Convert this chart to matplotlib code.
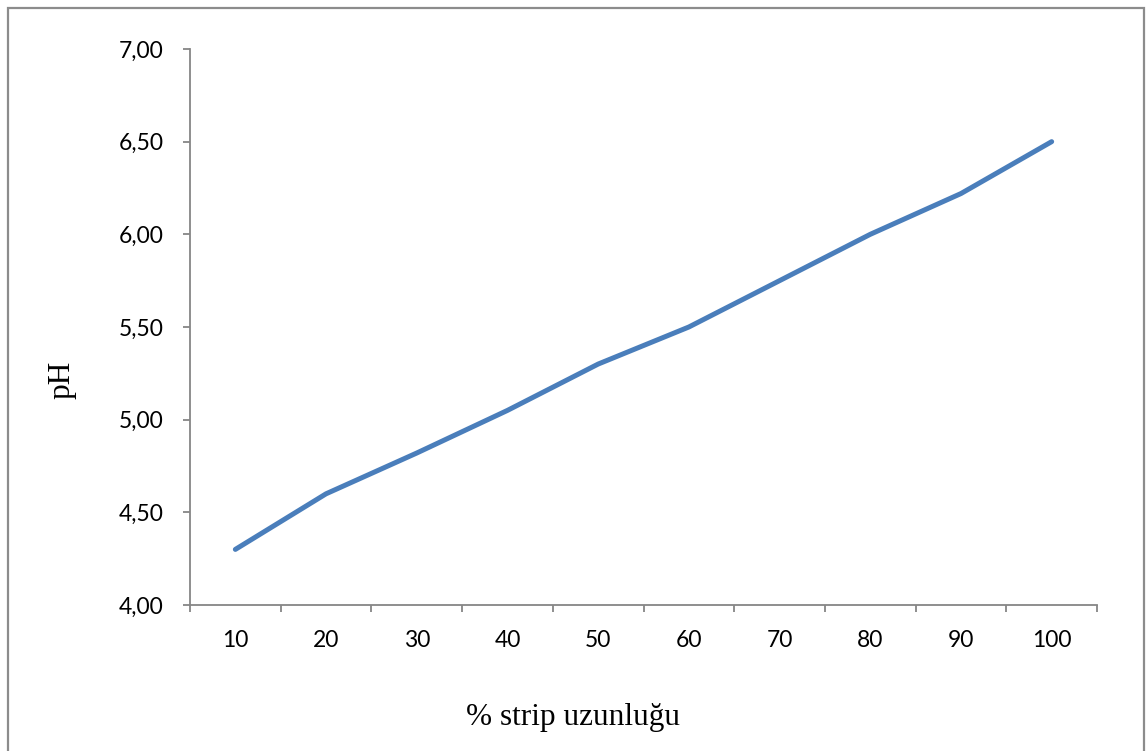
import matplotlib.pyplot as plt
from matplotlib.patches import Rectangle
from matplotlib.ticker import FuncFormatter, FixedLocator

# data
strip = [10, 20, 30, 40, 50, 60, 70, 80, 90, 100]
ph = [4.30, 4.60, 4.82, 5.05, 5.30, 5.50, 5.75, 6.00, 6.22, 6.50]
yticks = [4.0, 4.5, 5.0, 5.5, 6.0, 6.5, 7.0]

fig = plt.figure(figsize=(11.48, 7.51), dpi=100)
ax = fig.add_axes([190 / 1148, 1 - 605 / 751, 907 / 1148, 556 / 751])

pos = list(range(1, len(strip) + 1))
ax.plot(pos, ph, color="#4A7EBB", lw=3.6, solid_capstyle="round")

ax.set_xlim(0.5, len(strip) + 0.5)
ax.set_ylim(4.0, 7.0)
ax.set_xticks(pos)
ax.set_xticklabels([str(s) for s in strip])
ax.xaxis.set_minor_locator(FixedLocator([p - 0.5 for p in pos] + [len(strip) + 0.5]))
ax.set_yticks(yticks)
ax.yaxis.set_major_formatter(FuncFormatter(lambda v, p: f"{v:.2f}".replace(".", ",")))

grey = "#868686"
for s in ["top", "right"]:
    ax.spines[s].set_visible(False)
for s in ["left", "bottom"]:
    ax.spines[s].set_color(grey)
    ax.spines[s].set_linewidth(1.3)

ax.tick_params(axis="x", which="major", length=0, pad=18, labelsize=16.5)
ax.tick_params(axis="x", which="minor", length=5, width=1.3, color=grey, direction="out")
ax.tick_params(axis="y", length=5, width=1.3, color=grey, direction="out", pad=14, labelsize=16.5)
for lab in ax.get_xticklabels() + ax.get_yticklabels():
    lab.set_family(["Lato", "DejaVu Sans"])

fig.text(573 / 1148, 1 - 717 / 751, "% strip uzunluğu", family="Liberation Serif",
         fontsize=22.5, ha="center", va="center")
fig.text(62 / 1148, 1 - 380 / 751, "pH", family="Liberation Serif",
         fontsize=22.5, ha="center", va="center", rotation=90)

# chart-area frame, cut off at the bottom in the reference
fig.patches.append(Rectangle((8 / 1148, -0.05), 1136 / 1148, 1 - 8 / 751 + 0.05,
                             transform=fig.transFigure, fill=False,
                             edgecolor="#8c8c8c", lw=1.6))

fig.savefig("out.png", dpi=100)
